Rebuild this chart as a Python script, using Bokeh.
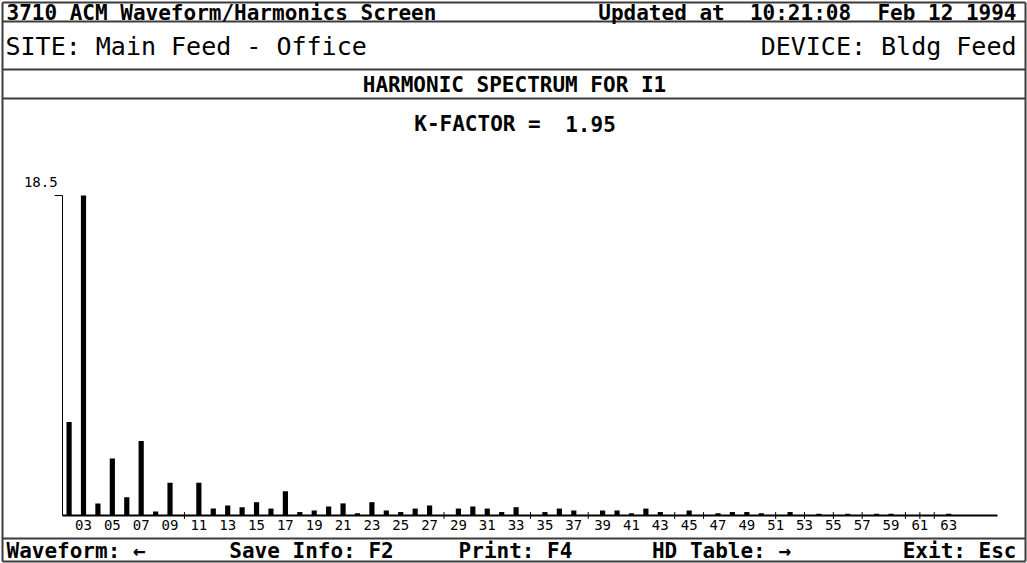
from bokeh.plotting import figure
from bokeh.models import Range1d, LinearAxis, FixedTicker
from bokeh.core.properties import value
from bokeh.embed import file_html
from bokeh.resources import INLINE

# ---- data ----
harmonics = list(range(2, 64))
magnitudes = [5.4, 18.5, 0.7, 3.3, 1.05, 4.3, 0.23, 1.9, 0, 1.9,
              0.4, 0.58, 0.48, 0.77, 0.4, 1.4, 0.2, 0.29, 0.52, 0.7,
              0.13, 0.77, 0.29, 0.2, 0.4, 0.58, 0, 0.4, 0.52, 0.4,
              0.2, 0.48, 0, 0.2, 0.4, 0.29, 0, 0.29, 0.29, 0.13,
              0.4, 0.2, 0, 0.29, 0, 0.13, 0.2, 0.2, 0.13, 0,
              0.2, 0, 0.1, 0, 0.1, 0, 0.1, 0.1, 0, 0, 0, 0.1]
x_ticks = list(range(3, 64, 2))
x_tick_labels = [f"{h:02d}" for h in x_ticks]
y_max = 18.5
y_tick_labels = ["18.5"]
k_factor = 1.95

FONT = "DejaVu Sans Mono"
MONO = value(FONT)
INK = "#000000"
RULE = "#3c3c3c"

W, H = 1027, 563
p = figure(width=W, height=H,
           x_range=Range1d(-2.756, 68.465), y_range=Range1d(-2.775, 29.774),
           output_backend="svg", toolbar_location=None, min_border=0,
           x_axis_type=None, y_axis_type=None)
p.outline_line_color = None
p.background_fill_color = "white"
p.border_fill_color = "white"
p.extra_x_ranges = {"sx": Range1d(0, 1027)}
p.extra_y_ranges = {"sy": Range1d(563, 0)}

# ---- screen frame rules ----
hy = [2, 21, 69, 98, 538, 561]
p.segment(x0=[2] * len(hy), x1=[1025] * len(hy), y0=hy, y1=hy,
          x_range_name="sx", y_range_name="sy", line_color=RULE, line_width=2)
p.segment(x0=[2, 1025], x1=[2, 1025], y0=[2, 2], y1=[561, 561],
          x_range_name="sx", y_range_name="sy", line_color=RULE, line_width=2)

def stext(x, y, t, size, bold=False, align="left"):
    p.text(x=[x], y=[y], text=[t], x_range_name="sx", y_range_name="sy",
           text_font=MONO, text_font_size=size,
           text_font_style="bold" if bold else "normal",
           text_align=align, text_baseline="middle", text_color=INK)

B = "21px"
stext(6, 12, "3710 ACM Waveform/Harmonics Screen", B, True)
stext(661, 12, "Updated at", B, True, "center")
stext(800, 12, "10:21:08", B, True, "center")
stext(1016, 12, "Feb 12 1994", B, True, "right")
stext(5, 46, "SITE: Main Feed - Office", "25px")
stext(1016, 46, "DEVICE: Bldg Feed", "25px", False, "right")
stext(514, 84, "HARMONIC SPECTRUM FOR I1", B, True, "center")
stext(477, 123, "K-FACTOR =", B, True, "center")
stext(590, 123, f"{k_factor:.2f}", B, True, "center")
stext(6, 550, "Waveform: \u2190", B, True)
stext(311, 550, "Save Info: F2", B, True, "center")
stext(515, 550, "Print: F4", B, True, "center")
stext(721, 550, "HD Table: \u2192", B, True, "center")
stext(1016, 550, "Exit: Esc", B, True, "right")

# ---- bars ----
bx = [h for h, m in zip(harmonics, magnitudes) if m > 0]
bt = [m for m in magnitudes if m > 0]
p.vbar(x=bx, top=bt, bottom=0, width=0.36, fill_color=INK, line_color=None)
zx = [h for h, m in zip(harmonics, magnitudes) if m == 0]
p.segment(x0=zx, x1=zx, y0=[-0.2] * len(zx), y1=[0.2] * len(zx),
          line_color=INK, line_width=1)

# ---- axes ----
xaxis = LinearAxis(fixed_location=0, bounds=(1.55, 66.4),
                   ticker=FixedTicker(ticks=x_ticks),
                   major_label_overrides={t: l for t, l in zip(x_ticks, x_tick_labels)},
                   major_tick_in=0, major_tick_out=0, minor_tick_line_color=None,
                   axis_line_width=2, axis_line_color=INK,
                   major_label_standoff=4,
                   major_label_text_font=FONT, major_label_text_font_size="14px",
                   major_label_text_color=INK)
p.add_layout(xaxis, "below")

yaxis = LinearAxis(fixed_location=1.55, bounds=(0, y_max),
                   ticker=FixedTicker(ticks=[y_max]),
                   major_label_overrides={y_max: ""},
                   major_tick_in=0, major_tick_out=8, minor_tick_line_color=None,
                   axis_line_width=1, axis_line_color=INK, major_tick_line_color=INK)
p.add_layout(yaxis, "left")

p.text(x=[1.55], y=[y_max], text=y_tick_labels, x_offset=-5, y_offset=-14,
       text_font=MONO, text_font_size="14px", text_align="right",
       text_baseline="middle", text_color=INK)

open("out.html", "w").write(file_html(p, INLINE))
